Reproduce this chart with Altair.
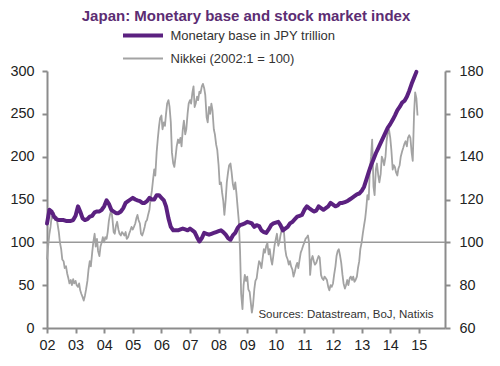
import altair as alt
import pandas as pd

S_MB = "Monetary base in JPY trillion"
S_NK = "Nikkei (2002:1 = 100)"

years = list(range(2002, 2015))

# Monetary base, JPY trillion, monthly Jan 2002 - Dec 2014 (left axis)
mb_values = [
    122, 138, 136, 130, 127, 126, 126, 126, 125, 125, 125, 126,   # 2002
    131, 142, 136, 128, 126, 127, 130, 131, 135, 136, 136, 138,   # 2003
    142, 149, 145, 138, 136, 134, 134, 136, 140, 146, 148, 150,   # 2004
    152, 150, 149, 148, 146, 146, 148, 152, 150, 150, 155, 155,   # 2005
    152, 149, 142, 128, 118, 114, 114, 114, 115, 116, 115, 114,   # 2006
    116, 114, 112, 106, 101, 105, 111, 110, 109, 110, 111, 112,   # 2007
    113, 114, 112, 109, 105, 103, 108, 111, 117, 120, 121, 122,   # 2008
    124, 123, 122, 118, 120, 119, 114, 112, 111, 115, 120, 122,   # 2009
    123, 124, 120, 114, 116, 118, 122, 124, 127, 130, 131, 132,   # 2010
    138, 142, 140, 138, 136, 137, 142, 140, 138, 140, 142, 146,   # 2011
    144, 142, 143, 146, 146, 147, 148, 150, 152, 154, 156, 157,   # 2012
    160, 165, 173, 182, 190, 197, 204, 210, 216, 222, 228, 234,   # 2013
    238, 243, 248, 254, 258, 263, 265, 270, 277, 285, 292, 299,   # 2014
]

# Nikkei index (2002:1 = 100), twice a month (1st and 15th) (right axis)
nk_values = [
    92, 98, 104, 107.2, 112, 111.2, 113.6, 110.4, 112, 108.8, 104.8, 100,
    96.8, 92, 91.2, 88, 88.8, 85.6, 83.2, 80.8, 82.4, 80, 82.8, 80.8,          # 2002
    82, 80, 79.2, 80.8, 77.6, 76, 74.4, 72.8, 75.2, 78, 82, 87.2,
    91.2, 88.8, 95.2, 100, 104, 98, 101.6, 96, 93.6, 98, 100, 102.4,           # 2003
    100, 102.4, 101.6, 104.8, 110, 112.8, 115.2, 111.2, 104.8, 104, 108, 109.6,
    106, 104, 103.2, 104.8, 104, 103.2, 104.8, 101.6, 102.4, 104, 105.6, 107.2,  # 2004
    106, 107.2, 108.8, 111.2, 112.8, 110.4, 108.8, 104, 103.2, 104.8, 107.2, 109.6,
    110.4, 112.8, 115.2, 120, 124, 128.8, 134, 131.2, 142, 148, 154, 158,      # 2005
    159.2, 152.8, 156, 154.4, 160, 164.8, 166.4, 163.2, 156, 142, 136.8, 135.2,
    140, 144.8, 148, 146.4, 148.8, 144.8, 152.8, 156.8, 150.4, 152.8, 160, 164.8,  # 2006
    166.4, 164.8, 170, 172.8, 163.2, 164.8, 168, 166.4, 170.4, 169.6, 172.8, 174,
    172, 168.8, 158.4, 156, 163.2, 160, 164.8, 161.6, 152.8, 150.4, 145.6, 143.2,  # 2007
    136, 127.2, 128, 123.2, 119.2, 112.8, 120, 128, 132.8, 136, 136.8, 132.8,
    127.2, 124.8, 128, 123.2, 116, 110, 96, 76, 68.8, 80, 84.8, 82,            # 2008
    84, 78, 76.8, 72, 67.2, 70.4, 78, 82, 83.2, 87.2, 91.2, 90.4,
    88, 92, 96.8, 95.2, 98.4, 99.6, 94.4, 96.8, 92, 89.6, 94, 98.4,            # 2009
    101.6, 104, 98.4, 100, 103.2, 105.6, 107.2, 104.8, 96.8, 93.6, 92, 89.6,
    91.2, 88.8, 87.2, 84, 86.4, 88.8, 90.4, 88, 92, 95.2, 96.8, 98.4,          # 2010
    100, 101.6, 102.4, 103.2, 100, 84.8, 92, 93.6, 91.2, 89.6, 90.4, 92,
    93.6, 92.8, 84.8, 83.2, 82.4, 84, 83.2, 82.4, 79.2, 77.6, 80, 79.2,        # 2011
    80.8, 84.8, 88.8, 93.6, 96, 96.8, 93.6, 90.4, 84.8, 80.8, 78.4, 80,
    82.4, 80, 83.2, 84, 82.4, 84, 81.6, 82.4, 84, 88, 91.2, 96.8,              # 2012
    100, 104, 108, 111.2, 116, 122, 120, 134, 140, 148, 126, 122,
    134, 136.8, 131.2, 128, 132, 140, 138.4, 136, 140, 147.2, 151.2, 152.8,    # 2013
    148.8, 143.2, 134, 136, 135.2, 132.8, 131.2, 134.4, 136, 140, 142.4, 144,
    146, 147.2, 144.8, 148.8, 150, 148.8, 142, 138, 160, 170, 167.2, 159.2,    # 2014
]

left_ticks = [0, 50, 100, 150, 200, 250, 300]
right_ticks = [60, 80, 100, 120, 140, 160, 180]
year_ticks = list(range(2002, 2016))

mb_dates = [f"{y}-{m:02d}-01T00:00:00" for y in years for m in range(1, 13)]
nk_dates = [f"{y}-{m:02d}-{d:02d}T00:00:00" for y in years for m in range(1, 13) for d in (1, 15)]

df_mb = pd.DataFrame({"date": mb_dates, "value": mb_values, "series": S_MB})
df_nk = pd.DataFrame({"date": nk_dates, "value": nk_values, "series": S_NK})

FONT = "Liberation Sans"
AX = dict(domainColor="#8c8c8c", domainWidth=2, tickColor="#8c8c8c", tickWidth=2,
          tickSize=5, labelFont=FONT, labelFontSize=14.4, labelColor="#222222",
          grid=False, title=None)

x_enc = alt.X(
    "date:T",
    scale=alt.Scale(domain=[alt.DateTime(year=2002, month=1, date=1),
                            alt.DateTime(year=2015, month=12, date=1)]),
    axis=alt.Axis(values=[alt.DateTime(year=y, month=1, date=1) for y in year_ticks],
                  format="%y", labelPadding=5, labelFlush=False, **AX),
)

legend = alt.Legend(orient="none", legendX=89.5, legendY=-42, title=None,
                    symbolType="M-5,0H5", symbolSize=64, labelFont=FONT,
                    labelFontSize=13, labelColor="#333333", labelOffset=21,
                    labelLimit=400, rowPadding=8, padding=0, direction="vertical")

color_enc = alt.Color("series:N", scale=alt.Scale(domain=[S_MB, S_NK], range=["#5b2180", "#a3a3a3"]),
                      legend=legend)
sw_enc = alt.StrokeWidth("series:N", scale=alt.Scale(domain=[S_MB, S_NK], range=[4, 1.8]),
                         legend=legend)

rule = alt.Chart(pd.DataFrame({"y": [100]})).mark_rule(color="#999999", strokeWidth=1.5).encode(
    y=alt.Y("y:Q", scale=alt.Scale(domain=[0, 300]), axis=None)
)

nk_line = alt.Chart(df_nk).mark_line(strokeJoin="round").encode(
    x=x_enc,
    y=alt.Y("value:Q", scale=alt.Scale(domain=[60, 180]),
            axis=alt.Axis(orient="right", values=right_ticks, labelPadding=9, **AX)),
    color=color_enc,
    strokeWidth=sw_enc,
)

mb_line = alt.Chart(df_mb).mark_line(strokeJoin="round", strokeCap="round").encode(
    x=x_enc,
    y=alt.Y("value:Q", scale=alt.Scale(domain=[0, 300]),
            axis=alt.Axis(orient="left", values=left_ticks, labelPadding=8, **AX)),
    color=color_enc,
    strokeWidth=sw_enc,
)

source = alt.Chart(pd.DataFrame({"t": ["Sources: Datastream, BoJ, Natixis"]})).mark_text(
    align="right", baseline="alphabetic", font=FONT, fontSize=11.5, color="#333333"
).encode(x=alt.value(386.5), y=alt.value(247), text="t:N")

chart = alt.layer(rule, nk_line, mb_line, source).resolve_scale(y="independent").properties(
    width=398, height=257,
    title=alt.TitleParams("Japan: Monetary base and stock market index", font=FONT,
                          fontSize=15, fontWeight="bold", color="#5c2d73",
                          anchor="middle", offset=5),
    autosize=alt.AutoSizeParams(type="none"),
    padding={"left": 39, "top": 63, "right": 47, "bottom": 30},
).configure_view(stroke=None)

chart.save("out.html", embed_options={"renderer": "svg", "actions": False})
